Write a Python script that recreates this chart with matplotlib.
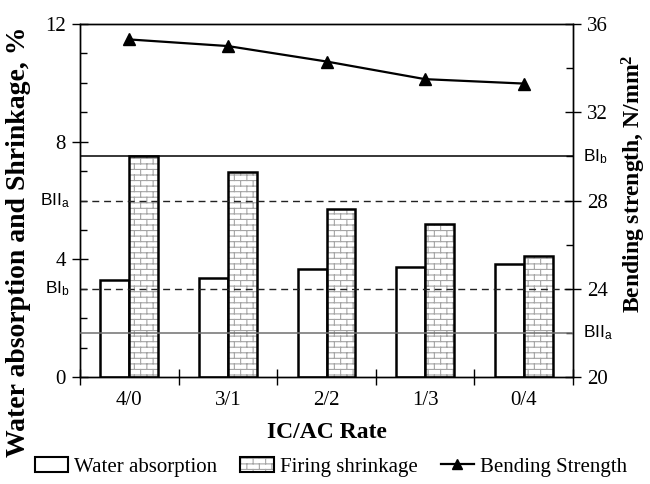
import warnings
import numpy as np
import matplotlib
matplotlib.use('Agg')
import matplotlib.pyplot as plt
import matplotlib.hatch as mhatch
from matplotlib.path import Path
from matplotlib.patches import Patch
from matplotlib.lines import Line2D
from matplotlib.ticker import MultipleLocator, FixedLocator, NullFormatter, FixedFormatter
from matplotlib.legend_handler import HandlerTuple

warnings.filterwarnings('ignore')

# ---------------- data ----------------
categories = ['4/0', '3/1', '2/2', '1/3', '0/4']
water_absorption = [3.31, 3.36, 3.68, 3.74, 3.84]
firing_shrinkage = [7.51, 6.98, 5.72, 5.2, 4.13]
bending_strength = [35.3, 35.0, 34.3, 33.5, 33.3]
wa_limit_labels = ['BII$_\\mathregular{a}$', 'BI$_\\mathregular{b}$']
wa_limit_values = [6, 3]
bs_limit_labels = ['BI$_\\mathregular{b}$', 'BII$_\\mathregular{a}$']
bs_limit_values = [30, 22]

# ---------------- brick hatch ----------------
class BrickHatch(mhatch.HatchPatternBase):
    rows = 18
    cols = 8

    def __init__(self, hatch, density):
        self.on = hatch.count('b') > 0
        r, c = self.rows, self.cols
        self.num_vertices = 2 * (r + r * c + c) if self.on else 0

    def set_vertices_and_codes(self, vertices, codes):
        r, c = self.rows, self.cols
        ys = (np.arange(r) + 0.5) / r
        segs = []
        for y in ys:
            segs.append(((0.0, y), (1.0, y)))
        for i in range(r):
            xs = (np.arange(c) + 0.25 + 0.5 * (i % 2)) / c
            y0 = ys[i]
            y1 = ys[i + 1] if i < r - 1 else 1.0
            for xx in xs:
                segs.append(((xx, y0), (xx, y1)))
            if i == r - 1:
                for xx in xs:
                    segs.append(((xx, 0.0), (xx, ys[0])))
        arr = np.array(segs).reshape(-1, 2)
        vertices[:] = arr
        codes[0::2] = Path.MOVETO
        codes[1::2] = Path.LINETO

mhatch._hatch_types.append(BrickHatch)

plt.rcParams['font.family'] = ['Liberation Serif', 'DejaVu Serif']
plt.rcParams['mathtext.default'] = 'regular'
plt.rcParams['hatch.linewidth'] = 0.8

fig = plt.figure(figsize=(6.5, 4.84), dpi=100)
L, R, T, B = 80, 573, 24, 377
ax = fig.add_axes([L / 650, 1 - B / 484, (R - L) / 650, (B - T) / 484])

x = np.arange(len(categories))
w = 0.294
hatch_gray = '#a5a5a5'
ax.bar(x - w / 2, water_absorption, w, facecolor='white', edgecolor='black', lw=1.8, zorder=2)
ax.bar(x + w / 2, firing_shrinkage, w, facecolor='white', edgecolor=hatch_gray, lw=0, hatch='b', zorder=2)
ax.bar(x + w / 2, firing_shrinkage, w, facecolor='none', edgecolor='black', lw=1.8, zorder=3)

for lab, v in zip(wa_limit_labels, wa_limit_values):
    ax.axhline(v, color='#222222', lw=1.0, ls=(0, (5, 3.5)), zorder=5)
    ax.text(-0.02, v, lab, transform=ax.get_yaxis_transform(), ha='right', va='center',
            fontsize=12.5, family='Liberation Sans')

ax.set_xlim(-0.5, len(categories) - 0.5)
ax.set_ylim(0, 12)
ax.yaxis.set_major_locator(MultipleLocator(4))
ax.yaxis.set_minor_locator(MultipleLocator(1))
ax.xaxis.set_major_locator(FixedLocator(np.arange(len(categories) + 1) - 0.5))
ax.xaxis.set_major_formatter(NullFormatter())
ax.xaxis.set_minor_locator(FixedLocator(x))
ax.xaxis.set_minor_formatter(FixedFormatter(categories))
ax.tick_params(axis='x', which='major', direction='inout', length=12, width=1)
ax.tick_params(axis='x', which='minor', length=0, pad=10, labelsize=15)
ax.tick_params(axis='y', which='major', direction='inout', length=12, width=1, labelsize=15, pad=4)
ax.tick_params(axis='y', which='minor', direction='in', length=5, width=1)
for s in ax.spines.values():
    s.set_linewidth(1.0)

ax2 = ax.twinx()
ax2.set_ylim(20, 36)
ax2.plot(x, bending_strength, '-^', color='black', lw=1.6, ms=8, zorder=6)
for lab, v, c in zip(bs_limit_labels, bs_limit_values, ['black', '#707070']):
    ax2.axhline(v, color=c, lw=1.1, zorder=5)
    ax2.text(1.02, v, lab, transform=ax2.get_yaxis_transform(), ha='left', va='center',
             fontsize=12.5, family='Liberation Sans')
ax2.yaxis.set_major_locator(MultipleLocator(4))
ax2.yaxis.set_minor_locator(MultipleLocator(2))
ax2.tick_params(axis='y', which='major', direction='inout', length=12, width=1, labelsize=15, pad=4)
ax2.tick_params(axis='y', which='minor', direction='in', length=5, width=1)
for s in ax2.spines.values():
    s.set_linewidth(1.0)

fig.text(0.028, 0.5, 'Water absorption and Shrinkage, %', rotation=90, fontsize=20,
         fontweight='bold', ha='center', va='center')
fig.text(0.975, 0.62, 'Bending strength, N/mm$^{2}$', rotation=90, fontsize=17,
         fontweight='bold', ha='center', va='center')
fig.text((L + R) / 2 / 650, 1 - 432 / 484, 'IC/AC Rate', fontsize=17, fontweight='bold',
         ha='center', va='center')

h1 = Patch(facecolor='white', edgecolor='black', lw=1.5)
h2 = (Patch(facecolor='white', edgecolor=hatch_gray, lw=0, hatch='b'),
      Patch(facecolor='none', edgecolor='black', lw=1.5))
h3 = Line2D([], [], color='black', marker='^', lw=1.6, ms=7)
fig.legend([h1, h2, h3], ['Water absorption', 'Firing shrinkage', 'Bending Strength'],
           loc='center', bbox_to_anchor=(331 / 650, 1 - 467 / 484), ncol=3, frameon=False,
           fontsize=15, handlelength=1.6, handletextpad=0.3, columnspacing=1.1,
           handler_map={tuple: HandlerTuple(ndivide=1, pad=0)})

fig.savefig('out.png', dpi=100)
